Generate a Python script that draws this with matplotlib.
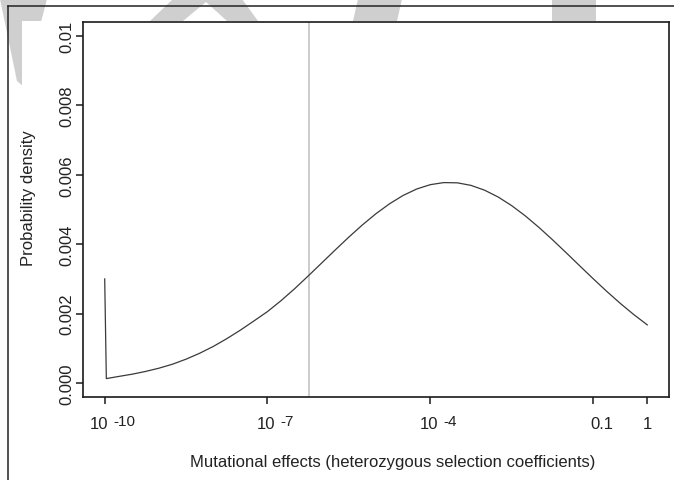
import matplotlib
matplotlib.use('Agg')
import matplotlib.pyplot as plt
from matplotlib.patches import Polygon, Rectangle
from matplotlib.lines import Line2D
import numpy as np

plt.rcParams['font.family'] = ['Liberation Sans', 'DejaVu Sans']

# density of mutational effects (x given as log10 of s)
log_s = [-10, -9.97, -9.75, -9.5, -9.25, -9, -8.75, -8.5, -8.25, -8, -7.75,
         -7.5, -7.25, -7, -6.75, -6.5, -6.25, -6, -5.75, -5.5, -5.25, -5,
         -4.75, -4.5, -4.25, -4, -3.75, -3.5, -3.25, -3, -2.75, -2.5, -2.25,
         -2, -1.75, -1.5, -1.25, -1, -0.75, -0.5, -0.25, 0]
density = [3.000, 0.130, 0.190, 0.255, 0.335, 0.430, 0.545, 0.690, 0.860,
           1.055, 1.280, 1.525, 1.790, 2.060, 2.375, 2.718, 3.085, 3.461,
           3.837, 4.206, 4.557, 4.880, 5.165, 5.405, 5.590, 5.715, 5.775,
           5.768, 5.695, 5.557, 5.361, 5.112, 4.818, 4.488, 4.133, 3.762,
           3.385, 3.010, 2.646, 2.299, 1.975, 1.677]  # x 1e-3
vline_log_s = -6.24

xtick_vals = [1e-10, 1e-7, 1e-4, 0.1, 1]
xtick_base = ['10', '10', '10', '0.1', '1']
xtick_exp = ['-10', '-7', '-4', '', '']
xtick_shift = [8, 8, 8, 9, 0]  # pixels
ytick_vals = [0.0, 0.002, 0.004, 0.006, 0.008, 0.01]
ytick_labels = ['0.000', '0.002', '0.004', '0.006', '0.008', '0.01']

W, H = 674, 481
fig = plt.figure(figsize=(W / 100, H / 100), dpi=100, facecolor='white')


def fx(px):
    return px / W


def fy(py):
    return 1 - py / H


# watermark shapes behind the plot
grey = '#cfcfcf'
shapes = [
    [(0, 0), (47, 0), (24, 88), (17, 82)],
    [(173, 0), (242, 0), (258, 22), (227, 22), (206, 3), (183, 22), (150, 22)],
    [(358, 0), (402, 0), (397, 22), (353, 22)],
    [(552, 0), (596, 0), (596, 22), (552, 22)],
]
for pts in shapes:
    fig.patches.append(Polygon([(fx(a), fy(b)) for a, b in pts], closed=True,
                               facecolor=grey, edgecolor='none',
                               transform=fig.transFigure, zorder=-3))
fig.patches.append(Rectangle((fx(22), 0), 1, fy(22), facecolor='white',
                             edgecolor='none', transform=fig.transFigure,
                             zorder=-2))
fig.lines.append(Line2D([fx(8), 1], [fy(7), fy(7)], color='#222222', lw=1.1,
                        transform=fig.transFigure, zorder=-1))
fig.lines.append(Line2D([fx(8), fx(8)], [fy(7), 0], color='#222222', lw=1.1,
                        transform=fig.transFigure, zorder=-1))

ax = fig.add_axes([fx(83), fy(398), fx(669) - fx(83), fy(23) - fy(398)])
ax.set_facecolor('white')

s = 10.0 ** np.array(log_s)
d = np.array(density) * 1e-3
ax.axvline(10 ** vline_log_s, color='#c4c4c4', lw=1.2)
ax.plot(s, d, color='#3a3a3a', lw=0.9)

ax.set_xscale('log')
ax.set_xlim(10 ** -10.4, 10 ** 0.4)
ax.set_ylim(-0.0004, 0.0104)
ax.minorticks_off()

for sp in ax.spines.values():
    sp.set_linewidth(1.2)
    sp.set_color('#1a1a1a')

ax.set_xticks(xtick_vals)
ax.set_xticklabels([''] * len(xtick_vals))
ax.set_yticks(ytick_vals)
ax.set_yticklabels(ytick_labels, rotation=90, va='center', fontsize=12,
                   color='#222222')
ax.tick_params(axis='both', direction='out', length=5, width=1.1,
               color='#1a1a1a')
ax.tick_params(axis='y', pad=1)

# x tick labels drawn by hand, R style "10 -10"
px2pt = 0.72
for v, base, ex, sh in zip(xtick_vals, xtick_base, xtick_exp, xtick_shift):
    if ex:
        total = 18.5 + 4.6 + (0.333 + 0.556 * (len(ex) - 1)) * 15.28
        left = sh - total / 2
        ax.annotate(base, xy=(v, 0), xycoords=('data', 'axes fraction'),
                    xytext=(left * px2pt, -31 * px2pt),
                    textcoords='offset points', ha='left', va='baseline',
                    fontsize=12, color='#222222', annotation_clip=False)
        ax.annotate(ex, xy=(v, 0), xycoords=('data', 'axes fraction'),
                    xytext=((left + 23.1) * px2pt, -28 * px2pt),
                    textcoords='offset points', ha='left', va='baseline',
                    fontsize=11, color='#222222', annotation_clip=False)
    else:
        ax.annotate(base, xy=(v, 0), xycoords=('data', 'axes fraction'),
                    xytext=(sh * px2pt, -31 * px2pt),
                    textcoords='offset points', ha='center', va='baseline',
                    fontsize=12, color='#222222', annotation_clip=False)

ax.set_xlabel('Mutational effects (heterozygous selection coefficients)',
              fontsize=12, color='#222222', va='baseline')
ax.xaxis.set_label_coords(0.528, -0.184)
ax.set_ylabel('Probability density', fontsize=12, color='#222222',
              va='baseline')
ax.yaxis.set_label_coords(-0.0853, 0.532)

fig.savefig('out.png', dpi=100, facecolor='white')
